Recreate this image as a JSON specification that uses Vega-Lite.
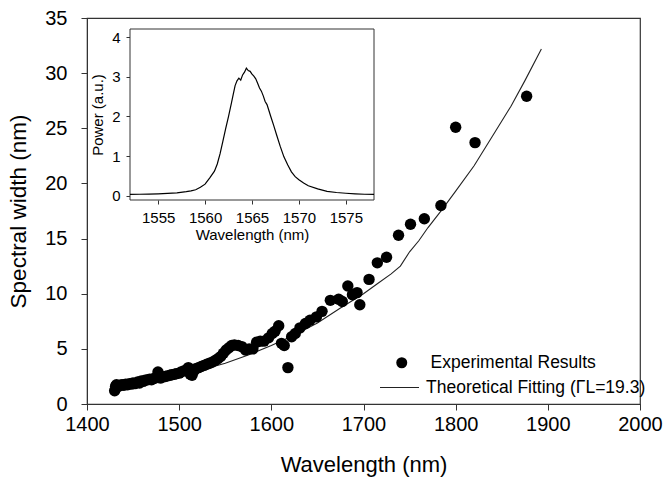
{
  "$schema": "https://vega.github.io/schema/vega-lite/v6.json",
  "width": 553,
  "height": 386,
  "autosize": "none",
  "padding": {"left": 87, "top": 18, "right": 26, "bottom": 77},
  "background": "white",
  "config": {
    "font": "Liberation Sans",
    "view": {"stroke": "#333", "strokeWidth": 1.2},
    "axis": {"grid": false, "domainColor": "#333", "tickColor": "#333", "labelColor": "black", "titleColor": "black", "titleFontWeight": "normal", "labelFont": "Liberation Sans", "titleFont": "Liberation Sans"},
    "legend": {"labelFont": "Liberation Sans", "labelColor": "black", "labelLimit": 500}
  },
  "datasets": {
    "experimental": [
      {"wl": 1430, "w": 1.2, "series": "Experimental Results"},
      {"wl": 1431, "w": 1.6, "series": "Experimental Results"},
      {"wl": 1432, "w": 1.75, "series": "Experimental Results"},
      {"wl": 1434, "w": 1.6, "series": "Experimental Results"},
      {"wl": 1436, "w": 1.7, "series": "Experimental Results"},
      {"wl": 1438, "w": 1.75, "series": "Experimental Results"},
      {"wl": 1440, "w": 1.7, "series": "Experimental Results"},
      {"wl": 1442, "w": 1.8, "series": "Experimental Results"},
      {"wl": 1444, "w": 1.75, "series": "Experimental Results"},
      {"wl": 1446, "w": 1.85, "series": "Experimental Results"},
      {"wl": 1448, "w": 1.8, "series": "Experimental Results"},
      {"wl": 1450, "w": 1.9, "series": "Experimental Results"},
      {"wl": 1452, "w": 1.85, "series": "Experimental Results"},
      {"wl": 1455, "w": 2.0, "series": "Experimental Results"},
      {"wl": 1457, "w": 1.9, "series": "Experimental Results"},
      {"wl": 1459, "w": 2.1, "series": "Experimental Results"},
      {"wl": 1461, "w": 2.05, "series": "Experimental Results"},
      {"wl": 1463, "w": 2.15, "series": "Experimental Results"},
      {"wl": 1466, "w": 2.2, "series": "Experimental Results"},
      {"wl": 1468, "w": 2.25, "series": "Experimental Results"},
      {"wl": 1470, "w": 2.2, "series": "Experimental Results"},
      {"wl": 1472, "w": 2.3, "series": "Experimental Results"},
      {"wl": 1474, "w": 2.35, "series": "Experimental Results"},
      {"wl": 1477, "w": 2.9, "series": "Experimental Results"},
      {"wl": 1478, "w": 2.4, "series": "Experimental Results"},
      {"wl": 1480, "w": 2.35, "series": "Experimental Results"},
      {"wl": 1482, "w": 2.45, "series": "Experimental Results"},
      {"wl": 1485, "w": 2.5, "series": "Experimental Results"},
      {"wl": 1487, "w": 2.55, "series": "Experimental Results"},
      {"wl": 1490, "w": 2.6, "series": "Experimental Results"},
      {"wl": 1492, "w": 2.65, "series": "Experimental Results"},
      {"wl": 1495, "w": 2.7, "series": "Experimental Results"},
      {"wl": 1497, "w": 2.75, "series": "Experimental Results"},
      {"wl": 1500, "w": 2.8, "series": "Experimental Results"},
      {"wl": 1502, "w": 2.9, "series": "Experimental Results"},
      {"wl": 1505, "w": 3.0, "series": "Experimental Results"},
      {"wl": 1508, "w": 3.1, "series": "Experimental Results"},
      {"wl": 1510, "w": 3.3, "series": "Experimental Results"},
      {"wl": 1512, "w": 2.7, "series": "Experimental Results"},
      {"wl": 1514, "w": 2.6, "series": "Experimental Results"},
      {"wl": 1516, "w": 3.0, "series": "Experimental Results"},
      {"wl": 1518, "w": 3.2, "series": "Experimental Results"},
      {"wl": 1521, "w": 3.3, "series": "Experimental Results"},
      {"wl": 1524, "w": 3.4, "series": "Experimental Results"},
      {"wl": 1527, "w": 3.5, "series": "Experimental Results"},
      {"wl": 1530, "w": 3.6, "series": "Experimental Results"},
      {"wl": 1533, "w": 3.7, "series": "Experimental Results"},
      {"wl": 1536, "w": 3.8, "series": "Experimental Results"},
      {"wl": 1539, "w": 3.95, "series": "Experimental Results"},
      {"wl": 1542, "w": 4.1, "series": "Experimental Results"},
      {"wl": 1545, "w": 4.3, "series": "Experimental Results"},
      {"wl": 1548, "w": 4.6, "series": "Experimental Results"},
      {"wl": 1551, "w": 4.9, "series": "Experimental Results"},
      {"wl": 1554, "w": 5.1, "series": "Experimental Results"},
      {"wl": 1557, "w": 5.3, "series": "Experimental Results"},
      {"wl": 1560, "w": 5.35, "series": "Experimental Results"},
      {"wl": 1564, "w": 5.3, "series": "Experimental Results"},
      {"wl": 1568, "w": 5.2, "series": "Experimental Results"},
      {"wl": 1572, "w": 4.9, "series": "Experimental Results"},
      {"wl": 1576, "w": 5.0, "series": "Experimental Results"},
      {"wl": 1580, "w": 5.0, "series": "Experimental Results"},
      {"wl": 1584, "w": 5.6, "series": "Experimental Results"},
      {"wl": 1588, "w": 5.7, "series": "Experimental Results"},
      {"wl": 1592, "w": 5.7, "series": "Experimental Results"},
      {"wl": 1597, "w": 6.0, "series": "Experimental Results"},
      {"wl": 1601, "w": 6.4, "series": "Experimental Results"},
      {"wl": 1604, "w": 6.6, "series": "Experimental Results"},
      {"wl": 1608, "w": 7.1, "series": "Experimental Results"},
      {"wl": 1611, "w": 5.5, "series": "Experimental Results"},
      {"wl": 1614, "w": 5.3, "series": "Experimental Results"},
      {"wl": 1618, "w": 3.3, "series": "Experimental Results"},
      {"wl": 1622, "w": 6.1, "series": "Experimental Results"},
      {"wl": 1626, "w": 6.4, "series": "Experimental Results"},
      {"wl": 1631, "w": 6.9, "series": "Experimental Results"},
      {"wl": 1637, "w": 7.3, "series": "Experimental Results"},
      {"wl": 1642, "w": 7.6, "series": "Experimental Results"},
      {"wl": 1649, "w": 7.9, "series": "Experimental Results"},
      {"wl": 1655, "w": 8.4, "series": "Experimental Results"},
      {"wl": 1664, "w": 9.4, "series": "Experimental Results"},
      {"wl": 1673, "w": 9.5, "series": "Experimental Results"},
      {"wl": 1677, "w": 9.3, "series": "Experimental Results"},
      {"wl": 1683, "w": 10.7, "series": "Experimental Results"},
      {"wl": 1688, "w": 9.9, "series": "Experimental Results"},
      {"wl": 1693, "w": 10.1, "series": "Experimental Results"},
      {"wl": 1696, "w": 9.0, "series": "Experimental Results"},
      {"wl": 1706, "w": 11.3, "series": "Experimental Results"},
      {"wl": 1715, "w": 12.8, "series": "Experimental Results"},
      {"wl": 1725, "w": 13.3, "series": "Experimental Results"},
      {"wl": 1738, "w": 15.3, "series": "Experimental Results"},
      {"wl": 1751, "w": 16.3, "series": "Experimental Results"},
      {"wl": 1766, "w": 16.8, "series": "Experimental Results"},
      {"wl": 1784, "w": 18.0, "series": "Experimental Results"},
      {"wl": 1800, "w": 25.1, "series": "Experimental Results"},
      {"wl": 1821, "w": 23.7, "series": "Experimental Results"},
      {"wl": 1877, "w": 27.9, "series": "Experimental Results"}
    ],
    "theory": [
      {"wl": 1430, "w": 1.45, "series": "Theoretical Fitting (ΓL=19.3)"},
      {"wl": 1450, "w": 1.75, "series": "Theoretical Fitting (ΓL=19.3)"},
      {"wl": 1475, "w": 2.15, "series": "Theoretical Fitting (ΓL=19.3)"},
      {"wl": 1500, "w": 2.6, "series": "Theoretical Fitting (ΓL=19.3)"},
      {"wl": 1525, "w": 3.1, "series": "Theoretical Fitting (ΓL=19.3)"},
      {"wl": 1550, "w": 3.7, "series": "Theoretical Fitting (ΓL=19.3)"},
      {"wl": 1575, "w": 4.45, "series": "Theoretical Fitting (ΓL=19.3)"},
      {"wl": 1600, "w": 5.3, "series": "Theoretical Fitting (ΓL=19.3)"},
      {"wl": 1625, "w": 6.25, "series": "Theoretical Fitting (ΓL=19.3)"},
      {"wl": 1650, "w": 7.35, "series": "Theoretical Fitting (ΓL=19.3)"},
      {"wl": 1675, "w": 8.7, "series": "Theoretical Fitting (ΓL=19.3)"},
      {"wl": 1700, "w": 10.0, "series": "Theoretical Fitting (ΓL=19.3)"},
      {"wl": 1715, "w": 10.9, "series": "Theoretical Fitting (ΓL=19.3)"},
      {"wl": 1730, "w": 11.8, "series": "Theoretical Fitting (ΓL=19.3)"},
      {"wl": 1740, "w": 12.5, "series": "Theoretical Fitting (ΓL=19.3)"},
      {"wl": 1750, "w": 13.8, "series": "Theoretical Fitting (ΓL=19.3)"},
      {"wl": 1760, "w": 14.8, "series": "Theoretical Fitting (ΓL=19.3)"},
      {"wl": 1770, "w": 16.0, "series": "Theoretical Fitting (ΓL=19.3)"},
      {"wl": 1785, "w": 17.6, "series": "Theoretical Fitting (ΓL=19.3)"},
      {"wl": 1800, "w": 19.3, "series": "Theoretical Fitting (ΓL=19.3)"},
      {"wl": 1820, "w": 21.6, "series": "Theoretical Fitting (ΓL=19.3)"},
      {"wl": 1840, "w": 24.3, "series": "Theoretical Fitting (ΓL=19.3)"},
      {"wl": 1860, "w": 27.0, "series": "Theoretical Fitting (ΓL=19.3)"},
      {"wl": 1875, "w": 29.3, "series": "Theoretical Fitting (ΓL=19.3)"},
      {"wl": 1893, "w": 32.2, "series": "Theoretical Fitting (ΓL=19.3)"}
    ],
    "spectrum": [
      {"wl": 1552.0, "p": 0.03},
      {"wl": 1553.0, "p": 0.035},
      {"wl": 1554.0, "p": 0.04},
      {"wl": 1555.0, "p": 0.045},
      {"wl": 1556.0, "p": 0.055},
      {"wl": 1557.0, "p": 0.07},
      {"wl": 1558.0, "p": 0.1},
      {"wl": 1558.5, "p": 0.12},
      {"wl": 1559.0, "p": 0.15},
      {"wl": 1559.5, "p": 0.21},
      {"wl": 1560.0, "p": 0.29},
      {"wl": 1560.5, "p": 0.45},
      {"wl": 1561.0, "p": 0.62},
      {"wl": 1561.3, "p": 0.8},
      {"wl": 1561.6, "p": 1.06},
      {"wl": 1561.9, "p": 1.38},
      {"wl": 1562.2, "p": 1.7},
      {"wl": 1562.5, "p": 2.0},
      {"wl": 1562.8, "p": 2.33},
      {"wl": 1563.0, "p": 2.56},
      {"wl": 1563.2, "p": 2.78},
      {"wl": 1563.4, "p": 2.9},
      {"wl": 1563.6, "p": 2.97},
      {"wl": 1563.8, "p": 2.92},
      {"wl": 1564.0, "p": 3.05},
      {"wl": 1564.2, "p": 3.12},
      {"wl": 1564.4, "p": 3.22},
      {"wl": 1564.6, "p": 3.16},
      {"wl": 1564.8, "p": 3.14},
      {"wl": 1565.0, "p": 3.07},
      {"wl": 1565.2, "p": 3.02},
      {"wl": 1565.4, "p": 2.95},
      {"wl": 1565.6, "p": 2.84},
      {"wl": 1565.8, "p": 2.72},
      {"wl": 1566.0, "p": 2.64},
      {"wl": 1566.2, "p": 2.52},
      {"wl": 1566.4, "p": 2.38},
      {"wl": 1566.6, "p": 2.3},
      {"wl": 1566.8, "p": 2.15},
      {"wl": 1567.0, "p": 2.0},
      {"wl": 1567.3, "p": 1.78},
      {"wl": 1567.6, "p": 1.55},
      {"wl": 1568.0, "p": 1.25},
      {"wl": 1568.4, "p": 0.98},
      {"wl": 1568.8, "p": 0.78},
      {"wl": 1569.2, "p": 0.6},
      {"wl": 1569.6, "p": 0.48},
      {"wl": 1570.0, "p": 0.4},
      {"wl": 1570.5, "p": 0.32},
      {"wl": 1571.0, "p": 0.25},
      {"wl": 1572.0, "p": 0.17},
      {"wl": 1573.0, "p": 0.11},
      {"wl": 1574.0, "p": 0.08},
      {"wl": 1575.0, "p": 0.06},
      {"wl": 1576.0, "p": 0.045},
      {"wl": 1577.0, "p": 0.035},
      {"wl": 1578.0, "p": 0.03}
    ]
  },
  "layer": [
    {
      "layer": [
        {
          "data": {"name": "theory"},
          "mark": {"type": "line", "strokeWidth": 1.1},
          "encoding": {
            "x": {"field": "wl", "type": "quantitative", "scale": {"domain": [1400, 2000], "nice": false},
              "axis": {"title": "Wavelength (nm)", "format": "d", "values": [1400, 1500, 1600, 1700, 1800, 1900, 2000], "labelFontSize": 20, "titleFontSize": 22, "tickSize": 6, "labelPadding": 4, "titlePadding": 20, "labelFlush": false}},
            "y": {"field": "w", "type": "quantitative", "scale": {"domain": [0, 35], "nice": false},
              "axis": {"title": "Spectral width (nm)", "format": "d", "values": [0, 5, 10, 15, 20, 25, 30, 35], "labelFontSize": 20, "titleFontSize": 22.5, "tickSize": 6, "labelPadding": 14, "titlePadding": 14}},
            "color": {"field": "series", "type": "nominal", "scale": {"range": ["#222"]},
              "legend": {"title": null, "orient": "none", "legendX": 292, "legendY": 349, "padding": 0, "labelFontSize": 17.5, "labelOffset": 6, "symbolSize": 1521, "symbolStrokeWidth": 1.1, "symbolType": "stroke"}}
          }
        },
        {
          "data": {"name": "experimental"},
          "mark": {"type": "point", "filled": true, "color": "black", "opacity": 1, "size": 130},
          "encoding": {
            "x": {"field": "wl", "type": "quantitative"},
            "y": {"field": "w", "type": "quantitative"},
            "shape": {"field": "series", "type": "nominal",
              "scale": {"domain": ["Experimental Results"], "range": ["circle"]},
              "legend": {"title": null, "orient": "none", "legendX": 306, "legendY": 336, "padding": 0, "labelFontSize": 17.5, "labelOffset": 20, "symbolSize": 121, "symbolFillColor": "black"}}
          }
        }
      ]
    },
    {
      "layer": [
        {
          "data": {"values": [{}]},
          "mark": {"type": "rect", "fill": "white", "stroke": "#333", "strokeWidth": 1},
          "encoding": {
            "x": {"datum": 1552, "type": "quantitative", "scale": {"domain": [1552, 1578], "range": [43, 287], "nice": false, "zero": false}},
            "x2": {"datum": 1578},
            "y": {"datum": -0.11, "type": "quantitative", "scale": {"domain": [-0.11, 4.21], "range": [182, 11], "nice": false, "zero": false}},
            "y2": {"datum": 4.21}
          }
        },
        {
          "data": {"name": "spectrum"},
          "mark": {"type": "line", "color": "black", "strokeWidth": 1.2},
          "encoding": {
            "x": {"field": "wl", "type": "quantitative", "scale": {"domain": [1552, 1578], "range": [43, 287], "nice": false, "zero": false},
              "axis": {"title": "Wavelength (nm)", "format": "d", "orient": "bottom", "offset": -204, "values": [1555, 1560, 1565, 1570, 1575], "labelFontSize": 15, "titleFontSize": 15, "tickSize": 4, "labelPadding": 6, "titlePadding": 2, "domain": false}},
            "y": {"field": "p", "type": "quantitative", "scale": {"domain": [-0.11, 4.21], "range": [182, 11], "nice": false, "zero": false},
              "axis": {"title": "Power (a.u.)", "format": "d", "orient": "left", "offset": -43, "values": [0, 1, 2, 3, 4], "labelFontSize": 15, "titleFontSize": 15, "tickSize": 4, "labelPadding": 6, "titlePadding": 6, "domain": false}}
          }
        }
      ]
    }
  ],
  "resolve": {"scale": {"x": "independent", "y": "independent", "color": "independent", "shape": "independent"}}
}
